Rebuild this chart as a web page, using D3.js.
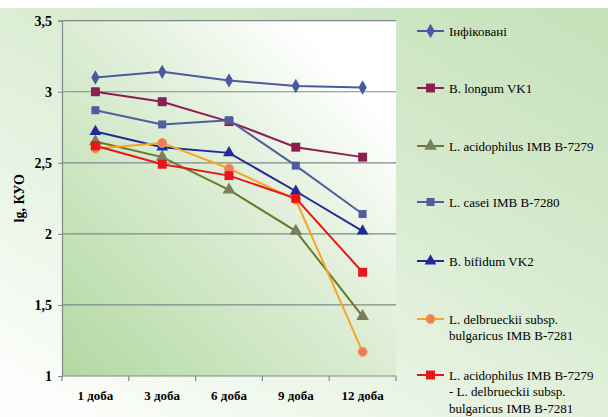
<!DOCTYPE html>
<html>
<head>
<meta charset="utf-8">
<script src="https://cdn.jsdelivr.net/npm/d3@7"></script>
<style>
  html, body { margin: 0; padding: 0; background: #ffffff; }
</style>
</head>
<body>
<svg id="chart" width="608" height="417"></svg>
<script>
// Days of observation
const categories = ["1 доба", "3 доба", "6 доба", "9 доба", "12 доба"];

// lg КУО per group
const infected       = [3.10, 3.14, 3.08, 3.04, 3.03];
const bLongum        = [3.00, 2.93, 2.79, 2.61, 2.54];
const lAcidophilus   = [2.65, 2.54, 2.31, 2.02, 1.42];
const lCasei         = [2.87, 2.77, 2.80, 2.48, 2.14];
const bBifidum       = [2.72, 2.61, 2.57, 2.30, 2.02];
const lDelbrueckii   = [2.60, 2.64, 2.46, 2.24, 1.17];
const lAcidDelb      = [2.62, 2.49, 2.41, 2.25, 1.73];

const yTicks = [1, 1.5, 2, 2.5, 3, 3.5];
const yTickLabels = ["1", "1,5", "2", "2,5", "3", "3,5"];

const seriesNames = [
  ["Інфіковані"],
  ["B. longum VK1"],
  ["L. acidophilus IMB B-7279"],
  ["L. casei IMB B-7280"],
  ["B. bifidum VK2"],
  ["L. delbrueckii subsp.", "bulgaricus IMB B-7281"],
  ["L. acidophilus IMB B-7279", "- L. delbrueckii subsp.", "bulgaricus IMB B-7281"]
];
const seriesValues = [infected, bLongum, lAcidophilus, lCasei, bBifidum, lDelbrueckii, lAcidDelb];

const styles = [
  { line: "#4b5aa0", fill: "#4b5aa0", shape: "diamond", size: 60 },
  { line: "#8c1f50", fill: "#8c1f50", shape: "square", size: 80 },
  { line: "#6b7a28", fill: "#7a7f5a", shape: "triangle", size: 70 },
  { line: "#4f5e9c", fill: "#4f5e9c", shape: "square", size: 64 },
  { line: "#1f2a9c", fill: "#1f2a9c", shape: "triangle", size: 60 },
  { line: "#f5a623", fill: "#f07a68", shape: "circle", size: 64 },
  { line: "#e8151b", fill: "#e8151b", shape: "square", size: 80 }
];
const shapeMap = {
  diamond: d3.symbolDiamond, square: d3.symbolSquare,
  triangle: d3.symbolTriangle, circle: d3.symbolCircle
};
const SERIF = "'Liberation Serif', 'DejaVu Serif', serif";

const svg = d3.select("#chart").style("font-family", SERIF);
const W = 608, H = 417;
const plot = { left: 62, right: 396, top: 20.7, bottom: 376 };

const defs = svg.append("defs");
const outerGrad = defs.append("linearGradient").attr("id", "outerBg")
  .attr("x1", "1").attr("y1", "0").attr("x2", "0.15").attr("y2", "1");
outerGrad.append("stop").attr("offset", "0").attr("stop-color", "#c4e1b9");
outerGrad.append("stop").attr("offset", "0.45").attr("stop-color", "#d9ecd1");
outerGrad.append("stop").attr("offset", "1").attr("stop-color", "#fbfdfa");

const plotGrad = defs.append("linearGradient").attr("id", "plotBg")
  .attr("x1", "0").attr("y1", "1").attr("x2", "1").attr("y2", "0");
plotGrad.append("stop").attr("offset", "0").attr("stop-color", "#b2d9a2");
plotGrad.append("stop").attr("offset", "0.55").attr("stop-color", "#e0efd9");
plotGrad.append("stop").attr("offset", "0.85").attr("stop-color", "#ffffff");

// Chart background
svg.append("rect").attr("x", 0).attr("y", 8).attr("width", W).attr("height", H - 8)
  .attr("fill", "url(#outerBg)");

// Plot area
svg.append("rect")
  .attr("x", plot.left).attr("y", plot.top)
  .attr("width", plot.right - plot.left).attr("height", plot.bottom - plot.top)
  .attr("fill", "url(#plotBg)");

const x = d3.scaleBand().domain(categories).range([plot.left, plot.right]);
const y = d3.scaleLinear().domain([1, 3.5]).range([plot.bottom, plot.top]);
const cx = c => x(c) + x.bandwidth() / 2;

// Horizontal gridlines
svg.append("g").selectAll("line")
  .data(yTicks.filter(t => t > 1))
  .join("line")
  .attr("x1", plot.left).attr("x2", plot.right)
  .attr("y1", d => y(d)).attr("y2", d => y(d))
  .attr("stroke", "#7f8a88").attr("stroke-width", 1.2);

// Y axis
const yAxis = svg.append("g").attr("transform", `translate(${plot.left},0)`)
  .call(d3.axisLeft(y).tickValues(yTicks)
    .tickFormat((d, i) => yTickLabels[i]).tickSize(4).tickPadding(6));
yAxis.attr("font-family", null);
yAxis.select(".domain").attr("stroke", "#7f8a88").attr("stroke-width", 1.2);
yAxis.selectAll(".tick line").attr("stroke", "#7f8a88");
yAxis.selectAll("text").attr("font-size", 14).attr("font-weight", "bold")
  .attr("fill", "#000").style("font-family", SERIF);

// X axis with ticks between categories
const xAxis = svg.append("g").attr("transform", `translate(0,${plot.bottom})`);
xAxis.append("line").attr("x1", plot.left).attr("x2", plot.right)
  .attr("stroke", "#7f8a88").attr("stroke-width", 1.2);
const boundaries = categories.map(c => x(c)).concat([plot.right]);
xAxis.selectAll("line.tick").data(boundaries).join("line").attr("class", "tick")
  .attr("x1", d => d).attr("x2", d => d).attr("y1", 0).attr("y2", 5)
  .attr("stroke", "#7f8a88").attr("stroke-width", 1.2);
xAxis.selectAll("text").data(categories).join("text")
  .attr("x", d => cx(d)).attr("y", 24)
  .attr("text-anchor", "middle").attr("font-size", 13).attr("font-weight", "bold")
  .style("font-family", SERIF)
  .text(d => d);

// Y axis title
svg.append("text")
  .attr("transform", `translate(24,${(plot.top + plot.bottom) / 2}) rotate(-90)`)
  .attr("text-anchor", "middle").attr("font-size", 14).attr("font-weight", "bold")
  .style("font-family", SERIF)
  .text("lg, КУО");

// Series lines and markers
const line = d3.line().x((d, i) => cx(categories[i])).y(d => y(d));
seriesValues.forEach((vals, s) => {
  const st = styles[s];
  const g = svg.append("g");
  g.append("path").datum(vals).attr("d", line)
    .attr("fill", "none").attr("stroke", st.line).attr("stroke-width", 2);
  g.selectAll("path.m").data(vals).join("path").attr("class", "m")
    .attr("transform", (d, i) => `translate(${cx(categories[i])},${y(d)})`)
    .attr("d", d3.symbol().type(shapeMap[st.shape]).size(st.size))
    .attr("fill", st.fill)
    .attr("stroke", st.shape === "circle" ? "#f5a623" : "none")
    .attr("stroke-width", 1);
});

// Legend
const legendY = [31, 88, 146, 202, 261, 319, 375];
const legend = svg.append("g");
seriesNames.forEach((lines, s) => {
  const st = styles[s];
  const g = legend.append("g").attr("transform", `translate(417,${legendY[s]})`);
  g.append("line").attr("x1", 0).attr("x2", 27).attr("y1", 0).attr("y2", 0)
    .attr("stroke", st.line).attr("stroke-width", 2);
  g.append("path").attr("transform", "translate(13.5,0)")
    .attr("d", d3.symbol().type(shapeMap[st.shape]).size(st.size))
    .attr("fill", st.fill)
    .attr("stroke", st.shape === "circle" ? "#f5a623" : "none");
  const t = g.append("text").attr("x", 32).attr("y", 4.5).attr("font-size", 13)
    .style("font-family", SERIF).attr("fill", "#000");
  lines.forEach((ln, i) => {
    t.append("tspan").attr("x", 32).attr("dy", i === 0 ? 0 : 16.5).text(ln);
  });
});
</script>
</body>
</html>
